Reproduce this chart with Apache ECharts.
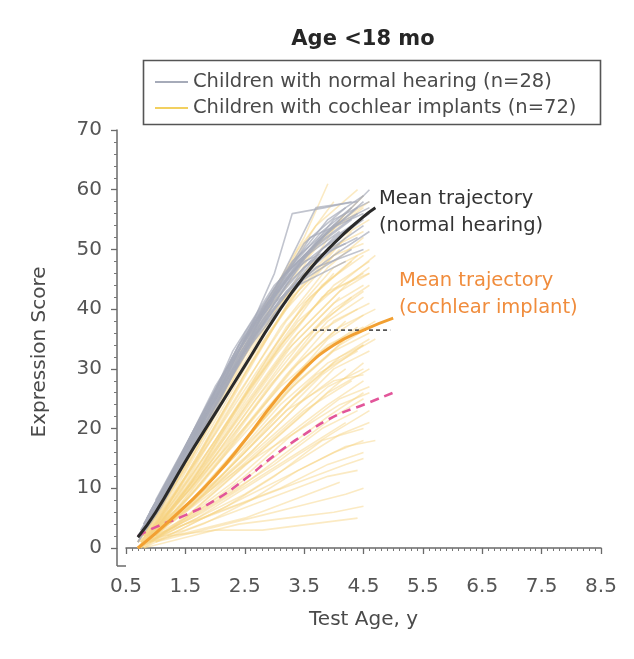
<!DOCTYPE html>
<html>
<head>
<meta charset="utf-8">
<script src="https://cdn.jsdelivr.net/npm/echarts@6/dist/echarts.min.js"></script>
<style>html,body{margin:0;padding:0;background:#fff;}#c{width:634px;height:659px;}</style>
</head>
<body>
<div id="c"></div>
<script>
// ---- data ----
var chartTitle = 'Age <18 mo';
var legendNames = ['Children with normal hearing (n=28)', 'Children with cochlear implants (n=72)'];
var xTicks = [0.5, 1.5, 2.5, 3.5, 4.5, 5.5, 6.5, 7.5, 8.5];
var yTicks = [0, 10, 20, 30, 40, 50, 60, 70];

// individual trajectories, children with normal hearing: [age, score]
var nhTrajectories = [
  [[0.75,2],[1.2,9],[1.8,20],[2.4,31],[3.0,42],[3.6,50]],
  [[0.8,3],[1.3,12],[2.0,25],[2.6,37],[3.0,46],[3.3,56],[3.85,57],[4.3,58]],
  [[0.7,1],[1.1,7],[1.7,18],[2.5,33],[3.2,44],[4.0,52],[4.6,56]],
  [[0.9,5],[1.5,16],[2.1,28],[2.8,40],[3.5,49],[4.3,55]],
  [[0.8,4],[1.4,15],[2.0,27],[2.7,38],[3.4,48],[4.1,53]],
  [[0.75,3],[1.2,10],[1.9,24],[2.3,33],[3.0,44],[3.8,52],[4.5,58]],
  [[1.0,8],[1.6,19],[2.2,30],[2.9,41],[3.6,50],[4.4,56]],
  [[0.7,2],[1.3,11],[2.0,24],[2.8,39],[3.5,48],[4.2,51]],
  [[0.85,4],[1.5,17],[2.4,34],[3.1,45],[3.9,55],[4.5,59]],
  [[0.9,6],[1.6,18],[2.3,31],[3.0,41],[3.7,47],[4.5,50]],
  [[0.8,3],[1.4,14],[2.1,27],[2.6,37],[3.3,46],[4.0,54],[4.6,60]],
  [[1.0,7],[1.7,20],[2.5,35],[3.2,46],[3.9,53]],
  [[0.75,2],[1.25,10],[1.9,23],[2.6,35],[3.4,47],[4.3,54]],
  [[0.95,6],[1.5,15],[2.2,28],[2.9,39],[3.6,48],[4.4,52]],
  [[0.8,4],[1.3,13],[2.0,26],[2.7,38],[3.5,51],[4.2,57]],
  [[0.7,2],[1.2,9],[1.8,21],[2.4,32],[3.2,43],[4.0,49],[4.6,53]],
  [[0.9,5],[1.6,18],[2.3,30],[3.0,40],[3.8,50],[4.5,55]],
  [[1.1,9],[1.8,22],[2.5,36],[3.3,48],[4.1,55]],
  [[0.85,4],[1.4,14],[2.2,29],[3.0,42],[3.7,51],[4.4,57]],
  [[0.8,3],[1.5,16],[2.1,26],[2.8,37],[3.5,45],[4.3,50]],
  [[0.75,3],[1.3,12],[2.0,25],[2.9,41],[3.6,52],[4.5,56]],
  [[1.0,7],[1.5,16],[2.3,32],[3.1,45],[3.8,53],[4.3,57]],
  [[0.9,5],[1.7,19],[2.4,33],[3.2,45],[4.0,55],[4.6,58]],
  [[0.7,1],[1.2,10],[1.9,22],[2.6,34],[3.4,44],[4.2,48]],
  [[0.8,4],[1.4,15],[2.2,30],[2.8,39],[3.5,47],[4.5,54]],
  [[0.95,6],[1.6,19],[2.4,34],[3.3,47],[4.0,54],[4.6,57]],
  [[0.85,5],[1.5,17],[2.1,27],[2.7,36],[3.4,45],[4.1,51]],
  [[0.8,3],[1.3,11],[2.0,23],[2.5,33],[3.3,49],[3.7,57],[4.4,58]]
];

// individual trajectories, children with cochlear implants: [age, score]
var ciTrajectories = [
  [[0.8,3],[1.4,13],[2.1,27],[2.8,40],[3.5,52],[3.9,61]],
  [[0.7,1],[1.3,11],[2.0,24],[2.7,37],[3.4,50],[4.0,58]],
  [[0.9,4],[1.5,14],[2.3,30],[3.0,43],[3.7,54],[4.4,60]],
  [[0.75,2],[1.4,12],[2.2,27],[3.0,41],[3.8,52],[4.5,57]],
  [[0.8,2],[1.6,16],[2.4,31],[3.2,45],[4.0,54],[4.6,58]],
  [[1.0,5],[1.7,17],[2.5,32],[3.3,44],[4.1,52],[4.6,55]],
  [[0.7,1],[1.5,13],[2.3,28],[3.1,41],[3.9,50],[4.5,53]],
  [[0.85,3],[1.6,15],[2.4,29],[3.2,40],[4.0,49],[4.5,51]],
  [[0.9,2],[1.8,17],[2.6,31],[3.4,43],[4.2,52]],
  [[0.75,1],[1.5,11],[2.3,24],[3.1,37],[3.9,47],[4.5,52]],
  [[0.8,1],[1.6,12],[2.4,24],[3.2,35],[4.0,44],[4.6,48]],
  [[0.7,0],[1.4,8],[2.2,20],[3.0,32],[3.8,42],[4.5,46]],
  [[0.9,2],[1.7,12],[2.5,23],[3.3,34],[4.1,42]],
  [[1.0,3],[1.8,14],[2.6,27],[3.4,38],[4.2,45],[4.7,49]],
  [[0.75,0],[1.5,9],[2.3,19],[3.1,29],[3.9,38],[4.5,42]],
  [[0.85,2],[1.6,10],[2.4,21],[3.2,32],[4.0,40],[4.6,44]],
  [[0.7,1],[1.3,6],[2.1,16],[2.9,27],[3.7,36],[4.4,40]],
  [[0.9,1],[1.7,10],[2.5,20],[3.3,30],[4.1,37],[4.7,40]],
  [[1.1,4],[1.9,14],[2.7,25],[3.5,35],[4.3,42]],
  [[0.8,2],[1.5,9],[2.3,18],[3.1,27],[3.9,34],[4.5,37]],
  [[0.7,0],[1.4,6],[2.2,14],[3.0,24],[3.8,33],[4.4,37]],
  [[0.95,2],[1.8,11],[2.6,21],[3.4,31],[4.2,38]],
  [[0.8,1],[1.6,8],[2.4,17],[3.2,26],[4.0,33],[4.6,36]],
  [[0.75,1],[1.5,7],[2.3,15],[3.1,24],[3.9,31],[4.5,34]],
  [[1.0,2],[1.8,10],[2.6,19],[3.4,28],[4.2,35],[4.7,38]],
  [[0.85,1],[1.7,8],[2.5,16],[3.3,25],[4.1,32],[4.6,35]],
  [[0.7,0],[1.3,5],[2.1,12],[2.9,21],[3.7,29],[4.4,33]],
  [[0.9,2],[1.6,7],[2.4,14],[3.2,22],[4.0,30],[4.6,33]],
  [[0.8,1],[1.5,6],[2.3,13],[3.1,20],[3.9,27],[4.5,30]],
  [[1.0,3],[1.8,9],[2.6,16],[3.4,24],[4.2,30]],
  [[0.75,0],[1.5,5],[2.3,11],[3.1,18],[3.9,24],[4.5,28]],
  [[0.9,1],[1.7,6],[2.5,12],[3.3,19],[4.1,25],[4.6,27]],
  [[0.8,1],[1.6,5],[2.4,10],[3.2,16],[4.0,22],[4.5,25]],
  [[0.7,0],[1.4,4],[2.2,9],[3.0,14],[3.8,20],[4.4,23]],
  [[1.0,2],[1.8,6],[2.6,11],[3.4,16],[4.2,21]],
  [[0.85,1],[1.7,5],[2.5,9],[3.3,14],[4.1,19],[4.6,21]],
  [[0.8,0],[1.6,4],[2.4,8],[3.2,12],[4.0,16],[4.5,18]],
  [[0.9,2],[1.8,5],[2.6,8],[3.4,11],[4.2,14],[4.5,15]],
  [[0.75,1],[1.5,3],[2.3,6],[3.1,9],[3.9,12],[4.4,13]],
  [[1.0,1],[1.8,3],[2.6,5],[3.4,7],[4.2,9],[4.5,10]],
  [[0.8,0],[1.6,2],[2.4,4],[3.2,5],[4.0,6],[4.5,7]],
  [[1.2,2],[2.0,3],[2.8,3],[3.6,4],[4.4,5]],
  [[0.9,1],[1.7,3],[2.5,5],[3.3,8],[4.1,11]],
  [[0.7,0],[1.5,4],[2.3,7],[3.1,10],[3.9,14],[4.5,16]],
  [[0.8,2],[1.4,10],[2.0,20],[2.7,32],[3.4,44],[4.1,55],[4.5,59]],
  [[0.9,3],[1.5,12],[2.2,24],[2.9,36],[3.6,46],[4.3,53]],
  [[0.7,1],[1.3,9],[2.0,19],[2.8,31],[3.6,42],[4.4,49]],
  [[0.85,2],[1.6,13],[2.4,26],[3.2,38],[4.0,47],[4.6,50]],
  [[1.0,4],[1.7,15],[2.5,29],[3.3,42],[4.1,50]],
  [[0.75,1],[1.4,9],[2.2,21],[3.0,33],[3.8,44],[4.5,49]],
  [[0.8,1],[1.5,10],[2.3,22],[3.1,34],[3.9,43],[4.6,46]],
  [[0.9,2],[1.6,11],[2.4,22],[3.2,33],[4.0,41],[4.5,44]],
  [[0.7,0],[1.4,7],[2.2,17],[3.0,28],[3.8,38],[4.5,43]],
  [[0.95,3],[1.7,12],[2.5,24],[3.3,35],[4.1,43],[4.6,46]],
  [[0.8,1],[1.6,9],[2.4,19],[3.2,29],[4.0,38],[4.6,41]],
  [[0.75,0],[1.5,8],[2.3,17],[3.1,26],[3.9,35],[4.5,39]],
  [[0.85,2],[1.6,8],[2.4,16],[3.2,24],[4.0,31],[4.7,35]],
  [[1.0,2],[1.7,9],[2.5,18],[3.3,27],[4.1,34],[4.6,37]],
  [[0.7,1],[1.4,6],[2.2,13],[3.0,21],[3.8,29],[4.5,34]],
  [[0.9,1],[1.6,6],[2.4,13],[3.2,20],[4.0,27],[4.5,31]],
  [[0.8,0],[1.5,5],[2.3,12],[3.1,19],[3.9,26],[4.6,30]],
  [[1.1,3],[1.9,9],[2.7,16],[3.5,23],[4.3,28]],
  [[0.75,1],[1.5,5],[2.3,10],[3.1,16],[3.9,22],[4.5,26]],
  [[0.9,1],[1.7,5],[2.5,10],[3.3,15],[4.1,20],[4.6,23]],
  [[0.8,2],[1.4,11],[2.1,23],[2.9,37],[3.6,49],[4.2,56]],
  [[0.7,0],[1.3,8],[2.0,18],[2.7,29],[3.5,41],[4.3,48]],
  [[0.85,1],[1.6,11],[2.4,24],[3.2,37],[4.0,46]],
  [[1.0,3],[1.8,13],[2.6,25],[3.4,36],[4.2,44],[4.6,47]],
  [[0.8,1],[1.6,7],[2.4,15],[3.2,23],[4.0,28],[4.5,29]],
  [[0.9,2],[1.7,8],[2.5,14],[3.3,19],[4.1,24],[4.6,26]],
  [[0.7,0],[1.4,3],[2.2,7],[3.0,12],[3.8,18],[4.5,20]],
  [[1.0,1],[1.8,4],[2.6,8],[3.4,13],[4.2,17],[4.7,18]]
];

// mean trajectories and reference curves
var nhMean = [[0.7,1.8],[1.0,6],[1.5,14.5],[2.0,22.5],[2.5,30.5],[3.0,38.5],[3.5,45.5],[4.0,51],[4.5,55.5],[4.7,57]];
var ciMean = [[0.7,0],[1.0,2.5],[1.5,7],[2.0,12],[2.5,18],[3.0,24.5],[3.5,30],[4.0,34],[4.5,36.5],[5.0,38.5]];
var pinkCurve = [[0.7,2],[1.0,3.5],[1.5,5.5],[2.0,8],[2.5,11.5],[3.0,15.5],[3.5,19],[4.0,22],[4.5,24],[5.0,26]];
var refLine = [[3.65,36.5],[4.95,36.5]];
var nhLabel = ['Mean trajectory', '(normal hearing)'];
var ciLabel = ['Mean trajectory', '(cochlear implant)'];

// ---- chart ----
var FONT = 'DejaVu Sans';
var GRAY = '#a6abb9', YELLOW = '#f7d382';
var chart = echarts.init(document.getElementById('c'), null, {renderer: 'canvas'});
var series = [];
ciTrajectories.forEach(function (d) {
  series.push({type: 'line', name: legendNames[1], data: d, symbol: 'none', z: 2,
    lineStyle: {color: YELLOW, width: 1.6, opacity: 0.48}, itemStyle: {color: YELLOW}, silent: true});
});
nhTrajectories.forEach(function (d) {
  series.push({type: 'line', name: legendNames[0], data: d, symbol: 'none', z: 3,
    lineStyle: {color: GRAY, width: 1.6, opacity: 0.7}, itemStyle: {color: GRAY}, silent: true});
});
series.push({type: 'line', name: 'pink', data: pinkCurve, symbol: 'none', smooth: true, z: 5,
  lineStyle: {color: '#e2559a', width: 2.6, type: [9, 6]}});
series.push({type: 'line', name: 'ref', data: refLine, symbol: 'none', z: 5,
  lineStyle: {color: '#555', width: 1.8, type: [4, 3]}});
series.push({type: 'line', name: 'ciMean', data: ciMean, symbol: 'none', smooth: true, z: 6,
  lineStyle: {color: '#f2a032', width: 3}});
series.push({type: 'line', name: 'nhMean', data: nhMean, symbol: 'none', smooth: true, z: 6,
  lineStyle: {color: '#2a2a2a', width: 3}});

var gL = 126, gR = 33, gT = 130, gB = 111;
var option = {
  animation: false,
  backgroundColor: '#fff',
  textStyle: {fontFamily: FONT},
  title: {text: chartTitle, left: 358, top: 24, textAlign: 'center',
    textStyle: {fontFamily: FONT, fontSize: 21, fontWeight: 'bold', color: '#262626'}},
  legend: {
    data: [{name: legendNames[0], icon: 'rect', itemStyle: {color: GRAY}},
           {name: legendNames[1], icon: 'rect', itemStyle: {color: '#f2d060'}}],
    orient: 'vertical', left: 150, top: 67, itemWidth: 33, itemHeight: 2, itemGap: 6,
    selectedMode: false,
    textStyle: {fontFamily: FONT, fontSize: 19.5, color: '#4a4a4a', lineHeight: 16}
  },
  grid: {left: gL, right: gR, top: gT, bottom: gB, containLabel: false},
  xAxis: {
    type: 'value', min: 0.5, max: 8.5, interval: 1, offset: 18,
    name: 'Test Age, y', nameLocation: 'middle', nameGap: 44,
    nameTextStyle: {fontFamily: FONT, fontSize: 20, color: '#4a4a4a'},
    axisLine: {show: true, lineStyle: {color: '#6a6a6a', width: 1.5}},
    axisTick: {show: true, length: 6, lineStyle: {color: '#6a6a6a', width: 1.3}},
    minorTick: {show: true, splitNumber: 10, length: 3, lineStyle: {color: '#777', width: 1}},
    axisLabel: {margin: 11, fontFamily: FONT, fontSize: 20, color: '#555',
      formatter: function (v) { return xTicks.indexOf(v) >= 0 ? String(v) : ''; }},
    splitLine: {show: false}
  },
  yAxis: {
    type: 'value', min: 0, max: 70, interval: 10, offset: 9,
    axisLine: {show: true, lineStyle: {color: '#6a6a6a', width: 1.5}},
    axisTick: {show: true, length: 6, lineStyle: {color: '#6a6a6a', width: 1.3}},
    minorTick: {show: true, splitNumber: 5, length: 3, lineStyle: {color: '#777', width: 1}},
    axisLabel: {margin: 15, fontFamily: FONT, fontSize: 20, color: '#555',
      formatter: function (v) { return yTicks.indexOf(v) >= 0 ? String(v) : ''; }},
    splitLine: {show: false}
  },
  graphic: [
    {type: 'rect', left: 141, top: 58, z: 10, silent: true,
      shape: {width: 457, height: 64},
      style: {fill: 'none', stroke: '#555', lineWidth: 1.6}},
    {type: 'line', z: 10, silent: true, shape: {x1: 117, y1: 548, x2: 117, y2: 566},
      style: {stroke: '#6a6a6a', lineWidth: 1.5}},
    {type: 'line', z: 10, silent: true, shape: {x1: 117, y1: 566, x2: 126, y2: 566},
      style: {stroke: '#6a6a6a', lineWidth: 1.5}},
    {type: 'text', x: 40, y: 352, rotation: Math.PI / 2, z: 10, silent: true,
      style: {text: 'Expression Score', fontFamily: FONT, fontSize: 20, fill: '#4a4a4a',
        textAlign: 'center', textVerticalAlign: 'middle'}},
    {type: 'text', x: 379, y: 185, z: 10, silent: true,
      style: {text: nhLabel.join('\n'), fontFamily: FONT, fontSize: 19.5, lineHeight: 27, fill: '#333'}},
    {type: 'text', x: 399, y: 267, z: 10, silent: true,
      style: {text: ciLabel.join('\n'), fontFamily: FONT, fontSize: 19.5, lineHeight: 27, fill: '#f08c3c'}}
  ],
  series: series
};
chart.setOption(option);
</script>
</body>
</html>
